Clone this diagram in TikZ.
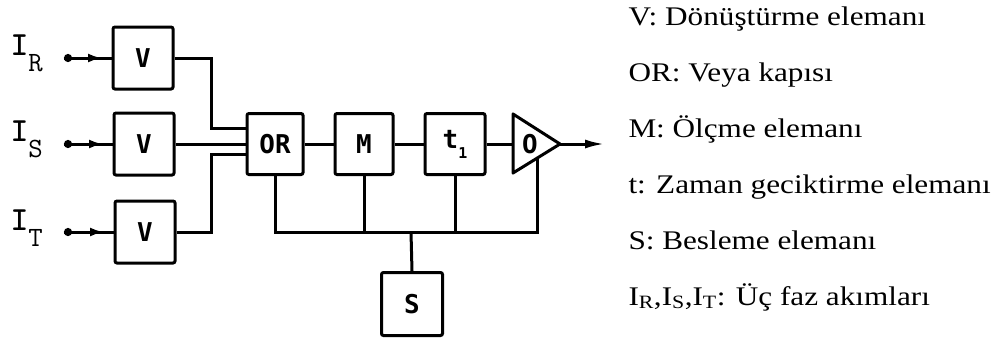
\documentclass[tikz,border=0pt]{standalone}
\usepackage{fontspec}
\setmainfont{Liberation Serif}
\newfontfamily\aciklamafont[FakeStretch=1.16]{Liberation Serif}
\newfontfamily\blokfont{DejaVu Sans Mono}
\usepackage{tikz}
\usetikzlibrary{arrows.meta, calc}

% phase current label: I with a lowered subscript
\newcommand{\fazakim}[1]{{\ttfamily\bfseries\fontsize{34}{34}\selectfont I}\raisebox{-16bp}{\ttfamily\fontsize{28}{28}\selectfont #1}}

\begin{document}
\begin{tikzpicture}[x=1bp, y=-1bp, line width=3bp,
  blok/.style={draw, rounded corners=2bp, inner sep=0pt, minimum width=60bp, minimum height=62bp,
    font=\blokfont\bfseries\fontsize{26}{26}\selectfont},
  giris/.style={{Circle[length=8bp]}-},
  ucok/.style={-{Latex[length=14bp,width=9bp]}},
  aciklama/.style={anchor=base west, inner sep=0pt, font=\aciklamafont\fontsize{27}{27}\selectfont}]
\useasboundingbox (0,0) rectangle (1006,346);

% Inputs
\node[anchor=base west, inner sep=0pt] (lR) at (9,55) {\fazakim{R}};
\node[anchor=base west, inner sep=0pt] (lS) at (9,141) {\fazakim{S}};
\node[anchor=base west, inner sep=0pt] (lT) at (9,230) {\fazakim{T}};
\coordinate (dR) at (64,58);
\coordinate (dS) at (64,144);
\coordinate (dT) at (64,232);
\coordinate (oR) at (102,58);
\coordinate (oS) at (103,144);
\coordinate (oT) at (104,232);

% Converters
\node[blok] (VR) at (143,58) {V};
\node[blok] (VS) at (144,144) {V};
\node[blok] (VT) at (145,232) {V};

\draw[giris] (dR) -- (VR.west);
\draw[giris] (dS) -- (VS.west);
\draw[giris] (dT) -- (VT.west);
\draw[ucok] (dR) -- (oR);
\draw[ucok] (dS) -- (oS);
\draw[ucok] (dT) -- (oT);

% Main chain
\node[blok, minimum width=56bp, minimum height=61bp] (OR) at (275,144) {OR};
\node[blok, minimum width=58bp, minimum height=61bp] (M) at (364,144) {M};
\node[blok, minimum height=61bp] (t) at (455,144) {t\raisebox{-10bp}{\fontsize{15}{15}\selectfont 1}};

\draw (VR.east) -- ++(37,0) |- ([yshift=16bp]OR.west);
\draw (VS.east) -- (OR.west);
\draw (VT.east) -- ++(35,0) |- ([yshift=-10bp]OR.west);

% Output stage
\coordinate (ampIn) at (513,144);
\coordinate (ampTip) at (560,144);
\coordinate (ampBot) at (537,158);
\draw[line join=round] (513,114) -- (ampTip) -- (513,173) -- cycle;
\node[font=\blokfont\bfseries\fontsize{26}{26}\selectfont, inner sep=0pt] (O) at (530,144) {O};
\coordinate (cikis) at (605,144);

\draw (OR.east) -- (M.west);
\draw (M.east) -- (t.west);
\draw (t.east) -- (ampIn);
\draw[-{Latex[length=20bp,width=9bp]}] (ampTip) -- (cikis);

% Supply bus
\coordinate (bus) at (411,232);
\node[blok, minimum width=61bp, minimum height=63bp] (S) at (412,304) {S};
\draw (OR.south) |- (bus) -| (ampBot);
\draw (M.south) -- (M.south |- bus);
\draw (t.south) -- (t.south |- bus);
\draw (bus) -- (S.north);

% Legend
\node[aciklama] (k1) at (627,25) {V: Dönüştürme elemanı};
\node[aciklama] (k2) at (627,81) {OR: Veya kapısı};
\node[aciklama] (k3) at (627,137) {M: Ölçme elemanı};
\node[aciklama] (k4) at (627,193) {t: Zaman geciktirme elemanı};
\node[aciklama] (k5) at (627,249) {S: Besleme elemanı};
\node[aciklama] (k6) at (627,305) {I\textsubscript{R},I\textsubscript{S},I\textsubscript{T}: Üç faz akımları};

\end{tikzpicture}
\end{document}
